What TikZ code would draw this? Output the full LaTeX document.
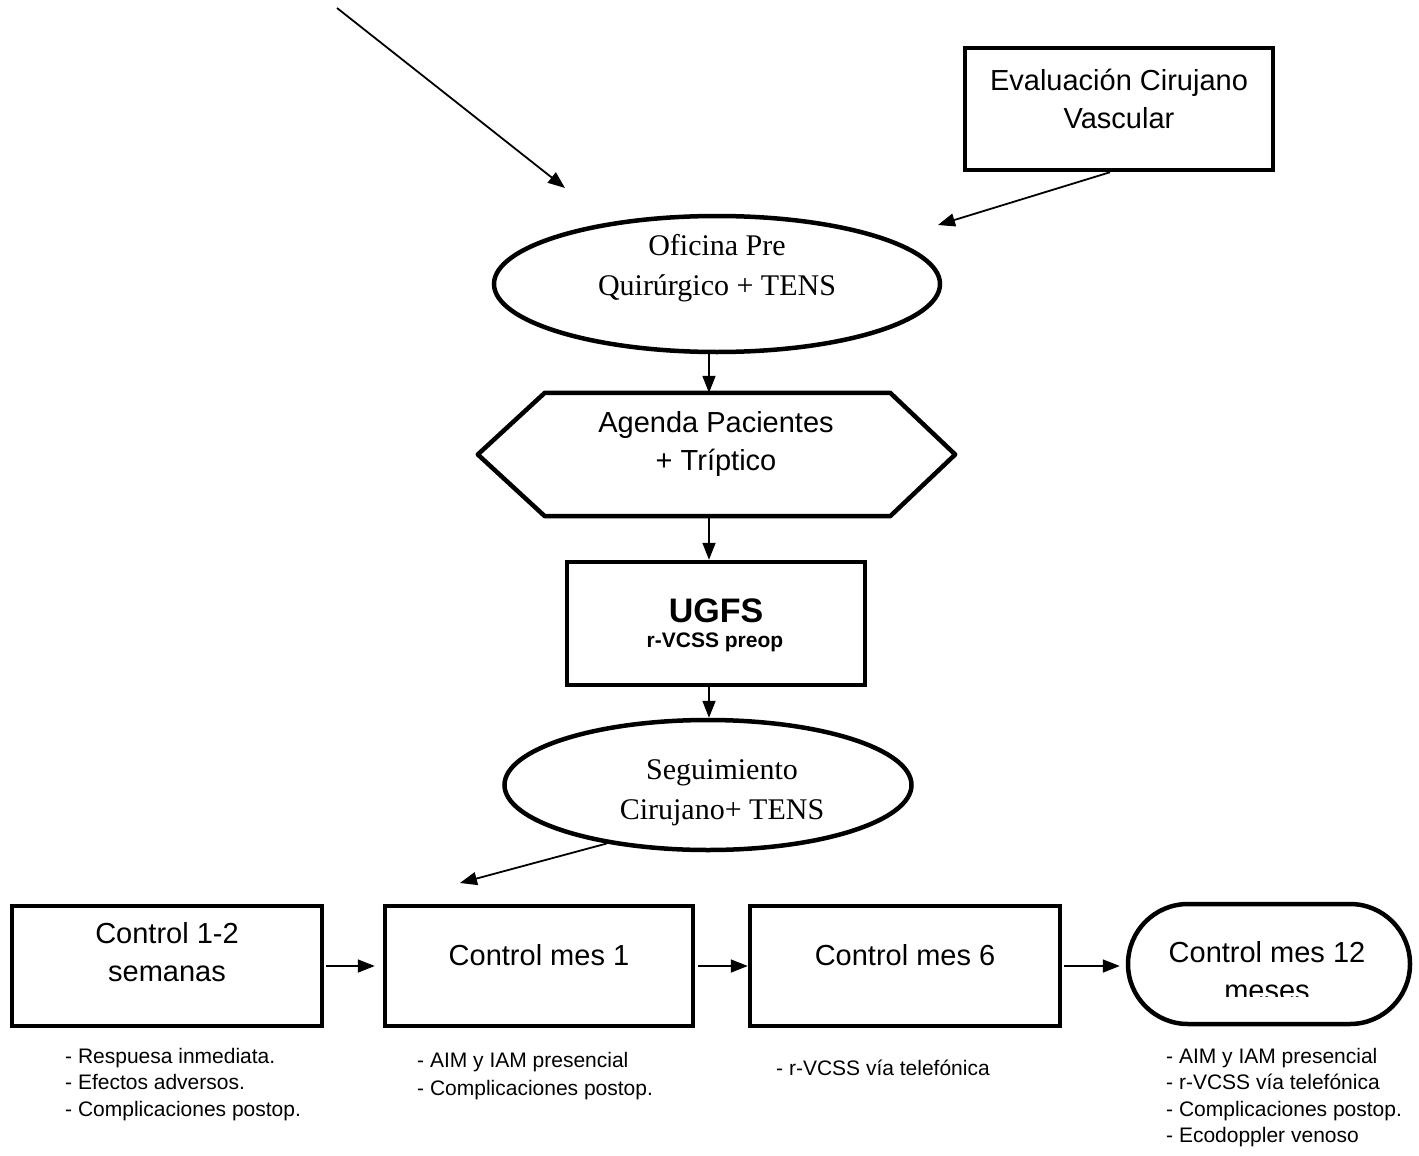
\documentclass[tikz,border=0pt]{standalone}
\usepackage{fontspec}
\setmainfont{Liberation Sans}
\newfontfamily\serifface{Liberation Serif}
\usetikzlibrary{arrows.meta,shapes.geometric,shapes.misc,calc}
\begin{document}
\begin{tikzpicture}[x=1pt,y=-1pt,
  thickline/.style={draw,line width=4.5pt},
  boxnode/.style={thickline,rectangle,inner sep=0pt},
  lbl/.style={font=\fontsize{29}{38}\selectfont,align=center,inner sep=0pt},
  slbl/.style={font=\serifface\fontsize{30}{40}\selectfont,align=center,inner sep=0pt},
  arr/.style={line width=1.8pt,-{Triangle[length=17pt,width=13pt]}},
  note/.style={font=\fontsize{21}{26.3}\selectfont,align=left,anchor=north west,inner sep=0pt}]

\useasboundingbox (0,0) rectangle (1419,1156);

% top nodes
\node[boxnode,minimum width=308pt,minimum height=122pt] (eval) at (1119,109) {};
\node[lbl] (evalt) at (1119,99) {Evaluación Cirujano\\Vascular};

\node[thickline,ellipse,minimum width=446pt,minimum height=136pt,inner sep=0pt] (ofi) at (717,284) {};
\node[slbl] (ofit) at (717,268) {Oficina Pre\\Quirúrgico + TENS};

\node[rectangle,minimum width=477pt,minimum height=123pt,inner sep=0pt] (hex) at (716.5,454.5) {};
\draw[line width=4.5pt,line join=round] (hex.west) -- ([xshift=67pt]hex.north west) -- ([xshift=-65pt]hex.north east)
   -- (hex.east) -- ([xshift=-65pt]hex.south east) -- ([xshift=67pt]hex.south west) -- cycle;
\node[lbl] (hext) at (716,444) {Agenda Pacientes\\+ Tríptico};

\node[boxnode,minimum width=298pt,minimum height=123pt] (ugfs) at (716,623.5) {};
\node[font=\bfseries\fontsize{34}{34}\selectfont,inner sep=0pt] (ugfst) at (716,611) {UGFS};
\node[font=\bfseries\fontsize{21}{21}\selectfont,inner sep=0pt] (ugfss) at (715,642) {r-VCSS preop};

\node[thickline,ellipse,minimum width=407pt,minimum height=130pt,inner sep=0pt] (seg) at (708,785) {};
\node[slbl] (segt) at (722,793) {Seguimiento\\Cirujano+ TENS};

% bottom row
\node[boxnode,minimum width=310pt,minimum height=120pt] (c1) at (167,966) {};
\node[lbl] (c1t) at (167,952) {Control 1-2\\semanas};
\node[boxnode,minimum width=308pt,minimum height=120pt] (c2) at (539,966) {};
\node[lbl] (c2t) at (539,955) {Control mes 1};
\node[boxnode,minimum width=310pt,minimum height=120pt] (c3) at (905,966) {};
\node[lbl] (c3t) at (905,955) {Control mes 6};
\node[thickline,rounded rectangle,minimum width=282pt,minimum height=120pt,inner sep=0pt] (c12) at (1269,964) {};
\begin{scope}
  \clip (1140,905) rectangle (1400,996);
  \node[lbl] (c12t) at (1267,971) {Control mes 12\\meses};
\end{scope}

% free ends
\coordinate (topstart) at (337,8);
\coordinate (topend) at (565,188);
\coordinate (evalend) at (938,225);
\coordinate (segend) at (460,883);

% connectors
\draw[arr] (topstart) -- (topend);
\draw[arr] ([xshift=-9pt]eval.south) -- (evalend);
\draw[arr] ([xshift=-8pt]ofi.south) -- ([xshift=-7.5pt]hex.north);
\draw[arr] ([xshift=-7.5pt]hex.south) -- ([xshift=-7pt]ugfs.north);
\draw[arr] ([xshift=-7pt]ugfs.south) -- ([xshift=1pt]seg.north);
\draw[arr] (seg.210) -- (segend);
\draw[arr] ([xshift=2pt]c1.east) -- ([xshift=-8pt]c2.west);
\draw[arr] ([xshift=3pt]c2.east) -- (c3.west);
\draw[arr] ([xshift=2pt]c3.east) -- ([xshift=-6pt]c3.east -| c12.west);

% notes
\node[note] (n1) at (65,1048) {- Respuesa inmediata.\\- Efectos adversos.\\- Complicaciones postop.};
\node[note] (n2) at (417,1052) {- AIM y IAM presencial\\[1.5pt]- Complicaciones postop.};
\node[note] (n3) at (776,1060) {- r-VCSS vía telefónica};
\node[note] (n4) at (1166,1048) {- AIM y IAM presencial\\- r-VCSS vía telefónica\\- Complicaciones postop.\\- Ecodoppler venoso};
\end{tikzpicture}
\end{document}
